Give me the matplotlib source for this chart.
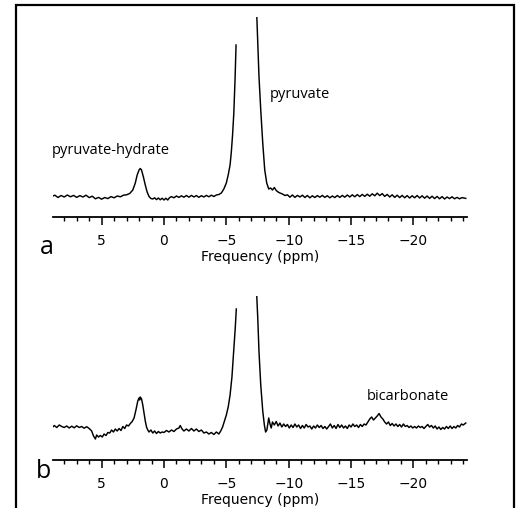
import numpy as np
import matplotlib
matplotlib.use("Agg")
import matplotlib.pyplot as plt
from matplotlib.patches import Rectangle

nan = np.nan

# ---------------- data (ppm, intensity in arbitrary units) ----------------
ppm_a = [9.0, 8.75, 8.5, 8.25, 8.0, 7.75, 7.5, 7.25, 7.0, 6.75, 6.5, 6.25, 6.0, 5.75,
         5.5, 5.25, 5.0, 4.75, 4.5, 4.25, 4.0, 3.75, 3.5, 3.25, 3.0, 2.75, 2.5, 2.3,
         2.15, 2.0, 1.9, 1.8, 1.65, 1.5, 1.35, 1.2, 1.05, 0.9, 0.75, 0.6, 0.45, 0.3,
         0.15, 0.0, -0.15, -0.3, -0.45, -0.6, -0.8, -1.0, -1.2, -1.4, -1.6, -1.8,
         -2.0, -2.2, -2.4, -2.6, -2.8, -3.0, -3.2, -3.4, -3.6, -3.8, -4.0, -4.2,
         -4.4, -4.6, -4.8, -5.0, -5.15, -5.3, -5.4, -5.5, -5.6, -5.7, -5.78, -6.6,
         -7.44, -7.52, -7.62, -7.76, -7.92, -8.08, -8.24, -8.4, -8.55, -8.7, -8.85,
         -9.0, -9.15, -9.3, -9.5, -9.7, -9.9, -10.1, -10.3, -10.5, -10.7, -10.9,
         -11.1, -11.3, -11.5, -11.7, -11.9, -12.1, -12.3, -12.5, -12.7, -12.9,
         -13.1, -13.3, -13.5, -13.7, -13.9, -14.1, -14.3, -14.5, -14.7, -14.9,
         -15.1, -15.3, -15.5, -15.7, -15.9, -16.1, -16.3, -16.5, -16.7, -16.9,
         -17.1, -17.3, -17.5, -17.7, -17.9, -18.1, -18.3, -18.5, -18.7, -18.9,
         -19.1, -19.3, -19.5, -19.7, -19.9, -20.1, -20.3, -20.5, -20.7, -20.9,
         -21.1, -21.3, -21.5, -21.7, -21.9, -22.1, -22.3, -22.5, -22.7, -22.9,
         -23.1, -23.3, -23.5, -23.7, -23.9, -24.2]
int_a = [0.5, 1.8, -0.5, 1.5, 0.0, 2.0, 0.2, 1.6, -0.4, 1.4, 0.0, 1.8, -0.6, 0.8,
         -1.8, -0.4, -2.2, -0.5, -1.6, 0.4, -0.8, 1.0, 0.2, 1.8, 2.2, 3.5, 7.0, 14,
         22, 27, 28.5, 27, 20, 12, 5, 0.5, -1.5, -2.0, -0.8, -2.6, -1.0, -2.8,
         -1.2, -3.0, -1.2, -3.0, -0.6, 0.4, -0.8, 1.0, -0.4, 1.2, -0.2, 1.5,
         -0.2, 1.6, 0.0, 1.4, -0.3, 1.3, 0.0, 1.6, 0.2, 1.8, 0.5, 2.0,
         2.5, 4, 8, 14, 22, 32, 45, 62, 84, 118, 152, nan,
         182, 154, 120, 87, 54, 27, 14, 8, 9, 7, 9.5,
         6.5, 5, 4, 3, 1.5, 2.2,
         -0.2, 2.0, -0.4, 1.6, 0.0, 1.8, -0.5, 1.5, -0.8, 1.2,
         -0.5, 1.4, -0.2, 1.6, -0.4, 1.3, -0.8, 1.0, -0.6, 1.5,
         -0.4, 1.6, -0.2, 2.0, 0.0, 2.2, 0.2, 2.4, 0.4, 2.6,
         0.6, 2.8, 0.8, 3.2, 1.2, 3.8, 1.4, 3.4, 0.6, 2.6,
         0.0, 2.2, -0.4, 1.8, -0.6, 1.6, -0.8, 1.4, -1.0, 1.2,
         -0.8, 1.5, -1.0, 1.2, -1.2, 1.0, -1.4, 0.8, -1.6, 0.6,
         -1.8, 0.4, -2.0, 0.0, -1.6, 0.2, -1.8, -0.4, -1.8, -0.6, -1.4]

ppm_b = [9.0, 8.8, 8.6, 8.4, 8.2, 8.0, 7.8, 7.6, 7.4, 7.2, 7.0, 6.8, 6.6, 6.4, 6.2,
         6.0, 5.8, 5.65, 5.5, 5.4, 5.25, 5.1, 4.95, 4.8, 4.65, 4.5, 4.35, 4.2, 4.05,
         3.9, 3.75, 3.6, 3.45, 3.3, 3.15, 3.0, 2.85, 2.7, 2.55, 2.4, 2.25, 2.1, 2.0,
         1.95, 1.9, 1.8, 1.7, 1.6, 1.5, 1.4, 1.3, 1.2, 1.05, 0.9, 0.75, 0.6, 0.45,
         0.3, 0.15, 0.0, -0.2, -0.4, -0.6, -0.8, -1.0, -1.2, -1.3, -1.45, -1.6, -1.8,
         -2.0, -2.2, -2.4, -2.6, -2.8, -3.0, -3.2, -3.4, -3.6, -3.8, -4.0, -4.2, -4.4,
         -4.55, -4.7, -4.85, -5.0, -5.15, -5.3, -5.45, -5.6, -5.72, -5.8, -6.6,
         -7.44, -7.52, -7.62, -7.76, -7.92, -8.05, -8.15, -8.25, -8.4, -8.5, -8.6,
         -8.7, -8.85, -9.0, -9.15, -9.3, -9.45, -9.6, -9.75, -9.9, -10.05, -10.2,
         -10.35, -10.5, -10.65, -10.8, -10.95, -11.1, -11.25, -11.4, -11.55, -11.7,
         -11.85, -12.0, -12.15, -12.3, -12.45, -12.6, -12.75, -12.9, -13.05, -13.2,
         -13.35, -13.5, -13.65, -13.8, -13.95, -14.1, -14.25, -14.4, -14.55, -14.7,
         -14.85, -15.0, -15.15, -15.3, -15.45, -15.6, -15.75, -15.9, -16.05, -16.2,
         -16.35, -16.5, -16.65, -16.8, -16.95, -17.1, -17.25, -17.4, -17.55, -17.7,
         -17.85, -18.0, -18.15, -18.3, -18.45, -18.6, -18.75, -18.9, -19.05, -19.2,
         -19.35, -19.5, -19.65, -19.8, -19.95, -20.1, -20.25, -20.4, -20.55, -20.7,
         -20.85, -21.0, -21.15, -21.3, -21.45, -21.6, -21.75, -21.9, -22.05, -22.2,
         -22.35, -22.5, -22.65, -22.8, -22.95, -23.1, -23.25, -23.4, -23.55, -23.7,
         -23.85, -24.0, -24.2]
int_b = [-1, 1.5, -0.5, 2.0, 0.5, -0.5, 1.0, -1.0, 0.8, -0.8, 1.2, -0.5, 0.5, -1.2, 0.3,
         -1.5, -4, -9, -12, -8, -10, -8.5, -10, -7, -8.5, -5.5, -6, -3, -5,
         -2, -4, -1.5, -3.5, 0.5, -1.5, 2, 1.0, 3.5, 5.5, 9, 17, 26, 29,
         27, 30, 28, 22, 14, 6, 0, -3, -5, -3, -6, -4, -6.5, -4.5,
         -6, -5, -5.5, -3.5, -5, -3, -4.5, -2, -1, 1.5, -2, -4, -2,
         -4, -1.5, -4, -2, -4.5, -3, -6, -5, -7, -5.5, -7.5, -5, -7,
         -4, 0, 6, 12, 20, 32, 50, 78, 100, 118, nan,
         131, 109, 75, 42, 16, 2, -5, -3, 9, 3, -1,
         5, 2, 5.5, 1, 4, 0, 3, 0.5, 2.5, -1, 2,
         -0.5, 3, 0, 2, -1.5, 1.5, -1, 2.5, 0, 1,
         -2, 1, -1, 2, -0.5, 1.5, -1.5, 0.5, -2, 0.5,
         3, -1, 1.5, -1.5, 2.5, -0.5, 2, -1, 1, -1.5,
         2, 0, 3, 0.5, 2, -0.5, 2.5, 0.5, 3, 2,
         5, 8, 10, 7, 9, 11, 13.5, 10, 8, 5,
         3, 5, 1.5, 3.5, 1, 3, 0.5, 2.5, 0, 3,
         0.5, 1.5, -0.5, 1, -1, 0.5, -1, 1, -0.5, 0.5,
         -1.5, 0.5, 2.5, 0, 1.5, -1, 1, -2, 0, -2.5,
         -0.5, -2, 0.5, -1.5, 1, -1.5, 0.5, -1, 1.5, 0,
         3, 2, 4]

xticks_major = [5, 0, -5, -10, -15, -20]
xtick_labels = ["5", "0", "\u22125", "\u221210", "\u221215", "\u221220"]
x_label = "Frequency (ppm)"
panel_labels = ["a", "b"]
peak_labels_a = [("pyruvate-hydrate", 9.0, 47), ("pyruvate", -8.5, 102)]
peak_labels_b = [("bicarbonate", -16.3, 30)]

# ---------------- figure ----------------
W, H = 527, 508
fig = plt.figure(figsize=(W / 100, H / 100), dpi=100)

def fx(px):
    return px / W

def fy(py):
    return 1 - py / H

# outer frame
fig.patches.append(Rectangle((fx(16), fy(512)), fx(514) - fx(16), fy(5) - fy(512),
                             transform=fig.transFigure, fill=False, lw=1.6,
                             edgecolor="black", zorder=10))

ax_a = fig.add_axes([fx(53), fy(216.7), fx(467) - fx(53), fy(17) - fy(216.7)])
ax_b = fig.add_axes([fx(53), fy(460), fx(467) - fx(53), fy(296) - fy(460)])

label_font = ["Open Sans", "DejaVu Sans"]

def style(ax, ylim):
    ax.set_xlim(8.9, -24.3)
    ax.set_ylim(*ylim)
    for s in ["top", "right", "left"]:
        ax.spines[s].set_visible(False)
    ax.spines["bottom"].set_linewidth(1.3)
    ax.set_yticks([])
    ax.set_xticks(xticks_major)
    ax.set_xticklabels(xtick_labels, fontsize=10, family="DejaVu Sans")
    ax.set_xticks(np.arange(-24, 9, 1), minor=True)
    ax.tick_params(axis="x", which="major", direction="out", length=5.5, width=1.1, pad=7)
    ax.tick_params(axis="x", which="minor", direction="out", length=3, width=1.0)
    ax.set_xlabel(x_label, fontsize=10, family="DejaVu Sans", labelpad=1.5)
    ax.patch.set_alpha(0)

ax_a.plot(ppm_a, int_a, color="black", lw=1.05)
style(ax_a, (-19.7, 180))
for txt, xx, yy in peak_labels_a:
    ax_a.text(xx, yy, txt, fontsize=10.5, family=label_font, va="center", ha="left")

ax_b.plot(ppm_b, int_b, color="black", lw=1.05)
style(ax_b, (-33, 131))
for txt, xx, yy in peak_labels_b:
    ax_b.text(xx, yy, txt, fontsize=10.5, family=label_font, va="center", ha="left")

fig.text(fx(47), fy(247), panel_labels[0], fontsize=18, family=label_font,
         ha="center", va="center")
fig.text(fx(44), fy(472), panel_labels[1], fontsize=18, family=label_font,
         ha="center", va="center")

fig.savefig("out.png", dpi=100)
